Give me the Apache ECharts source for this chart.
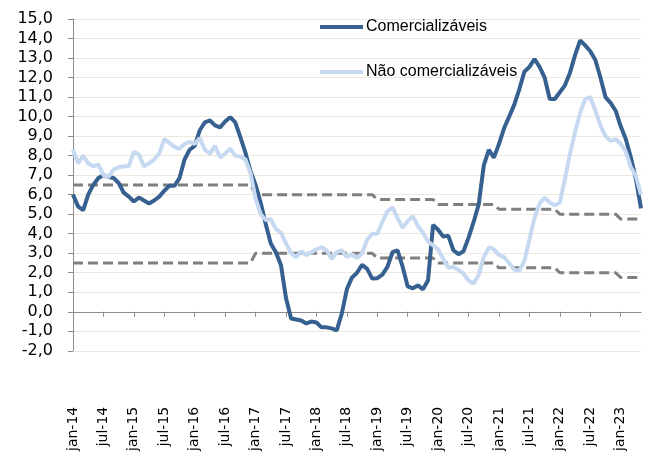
<!DOCTYPE html>
<html>
<head>
<meta charset="utf-8">
<script src="https://cdn.jsdelivr.net/npm/echarts@6/dist/echarts.min.js"></script>
<style>
html,body{margin:0;padding:0;background:#fff;}
#main{width:650px;height:454px;}
</style>
</head>
<body>
<div id="main"></div>
<script>
// jan-14 ... mai-23, mensal
var comercializaveis=[
	6.0,5.4,5.2,6.0,6.5,6.85,7.0,6.9,6.85,6.6,6.1,5.9,
	5.65,5.85,5.7,5.55,5.7,5.9,6.2,6.45,6.45,6.85,7.8,8.3,
	8.5,9.3,9.7,9.8,9.55,9.45,9.75,9.97,9.7,8.95,8.15,7.2,
	6.5,5.6,4.5,3.5,3.05,2.4,0.7,-0.35,-0.4,-0.45,-0.6,-0.5,
	-0.55,-0.8,-0.8,-0.85,-0.95,-0.1,1.15,1.75,2.0,2.4,2.2,1.7,
	1.72,1.9,2.3,3.05,3.15,2.3,1.3,1.2,1.35,1.15,1.6,4.45,
	4.2,3.85,3.9,3.15,2.95,3.1,3.8,4.6,5.5,7.5,8.3,7.9,
	8.6,9.4,10.0,10.6,11.4,12.3,12.55,12.95,12.55,12.0,10.9,10.9,
	11.25,11.6,12.25,13.15,13.9,13.65,13.35,12.9,12.0,11.0,10.7,10.3,
	9.5,8.85,7.9,6.8,5.3
];
var naoComercializaveis=[
	8.3,7.6,8.0,7.6,7.45,7.55,7.0,6.9,7.3,7.4,7.45,7.45,
	8.2,8.05,7.45,7.6,7.8,8.1,8.85,8.65,8.45,8.35,8.6,8.7,
	8.6,8.9,8.3,8.1,8.5,7.9,8.1,8.35,8.0,7.95,7.8,7.1,
	5.8,5.0,4.7,4.75,4.25,4.05,3.5,3.0,2.8,3.1,2.9,3.05,
	3.2,3.3,3.15,2.7,3.05,3.15,2.8,2.95,2.75,3.0,3.7,4.0,
	4.0,4.6,5.15,5.35,4.8,4.3,4.65,4.9,4.4,4.05,3.6,3.4,
	3.2,2.7,2.25,2.3,2.15,1.95,1.6,1.45,1.9,2.8,3.3,3.2,
	2.9,2.8,2.5,2.15,2.1,2.6,3.7,4.8,5.55,5.85,5.6,5.45,
	5.6,6.8,8.1,9.2,10.2,10.9,11.0,10.3,9.55,9.0,8.75,8.85,
	8.6,8.2,7.4,6.95,6.0
];
var anos=[2014,2015,2016,2017,2018,2019,2020,2021,2022,2023];
var tetoMeta=[6.5,6.5,6.5,6.0,6.0,5.75,5.5,5.25,5.0,4.75];
var pisoMeta=[2.5,2.5,2.5,3.0,3.0,2.75,2.5,2.25,2.0,1.75];
var meses=['jan','fev','mar','abr','mai','jun','jul','ago','set','out','nov','dez'];

var categorias=[],teto=[],piso=[];
for(var a=0;a<anos.length;a++){
	for(var m=0;m<12;m++){
		if(categorias.length>=comercializaveis.length) break;
		categorias.push(meses[m]+'-'+String(anos[a]).slice(2));
		teto.push(tetoMeta[a]);
		piso.push(pisoMeta[a]);
	}
}

var myChart=echarts.init(document.getElementById('main'));
var dashed={color:'#7f7f7f',width:3,type:[10,5]};
var option={
	animation:false,
	grid:{left:73,right:9,top:19,bottom:60},
	legend:{
		orient:'vertical',
		left:320,
		top:19,
		padding:0,
		itemWidth:43,
		itemHeight:4,
		itemGap:29,
		textStyle:{fontFamily:'Liberation Sans',fontSize:16,color:'#000',padding:[0,0,0,-2]},
		data:[
			{name:'Comercializáveis',icon:'rect'},
			{name:'Não comercializáveis',icon:'rect'}
		]
	},
	xAxis:{
		type:'category',
		boundaryGap:false,
		data:categorias,
		axisLine:{onZero:true,lineStyle:{color:'#8c8c8c',width:1}},
		axisTick:{interval:5,length:5,lineStyle:{color:'#8c8c8c'}},
		axisLabel:{
			interval:5,
			rotate:90,
			margin:56,
			fontFamily:'DejaVu Sans',
			fontSize:14,
			color:'#000'
		},
		splitLine:{show:false}
	},
	yAxis:{
		type:'value',
		min:-2,
		max:15,
		interval:1,
		axisLine:{show:true,lineStyle:{color:'#8c8c8c'}},
		axisTick:{show:true,length:5,lineStyle:{color:'#8c8c8c'}},
		axisLabel:{
			margin:20,
			fontFamily:'DejaVu Sans',
			fontSize:16,
			color:'#000',
			formatter:function(v){return v.toFixed(1).replace('.',',');}
		},
		splitLine:{lineStyle:{color:'#ede8dc',width:1}}
	},
	series:[
		{name:'teto',type:'line',data:teto,symbol:'none',silent:true,lineStyle:dashed,z:1},
		{name:'piso',type:'line',data:piso,symbol:'none',silent:true,lineStyle:dashed,z:1},
		{name:'Comercializáveis',type:'line',data:comercializaveis,symbol:'none',
			itemStyle:{color:'#35608f'},lineStyle:{color:'#35608f',width:4},z:2},
		{name:'Não comercializáveis',type:'line',data:naoComercializaveis,symbol:'none',
			itemStyle:{color:'#c6d9f1'},lineStyle:{color:'#c6d9f1',width:4},z:3}
	]
};
myChart.setOption(option);
</script>
</body>
</html>
